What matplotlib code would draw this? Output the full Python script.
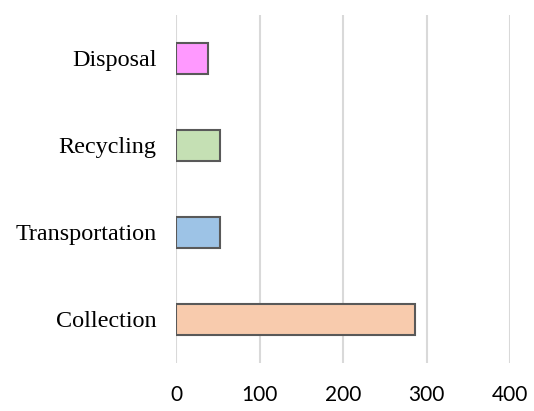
import matplotlib.pyplot as plt

# Cost components, bottom to top
stages = ['Collection', 'Transportation', 'Recycling', 'Disposal']
values = [286, 53, 52, 38]
colors = ['#F8CBAD', '#9DC3E6', '#C5E0B4', '#FF99FF']
xticks = [0, 100, 200, 300, 400]

fig = plt.figure(figsize=(5.34, 4.11), dpi=100)
ax = fig.add_axes([0.33, 0.117, 0.625, 0.847])

ax.barh(range(len(stages)), values, height=0.36, color=colors,
        edgecolor='#595959', linewidth=1.5, zorder=3)

ax.set_xlim(0, 400)
ax.set_ylim(-0.5, len(stages) - 0.5)
ax.set_xticks(xticks)
ax.set_yticks(range(len(stages)))
ax.set_yticklabels(stages, fontfamily='Liberation Serif', fontsize=17.4)
ax.tick_params(axis='x', length=0, pad=16, labelsize=15)
ax.tick_params(axis='y', length=0, pad=14)
for lbl in ax.get_xticklabels():
    lbl.set_fontfamily('Lato')

ax.grid(axis='x', color='#D9D9D9', linewidth=1.5, zorder=0)
for s in ax.spines.values():
    s.set_visible(False)

fig.savefig('out.png', dpi=100)
